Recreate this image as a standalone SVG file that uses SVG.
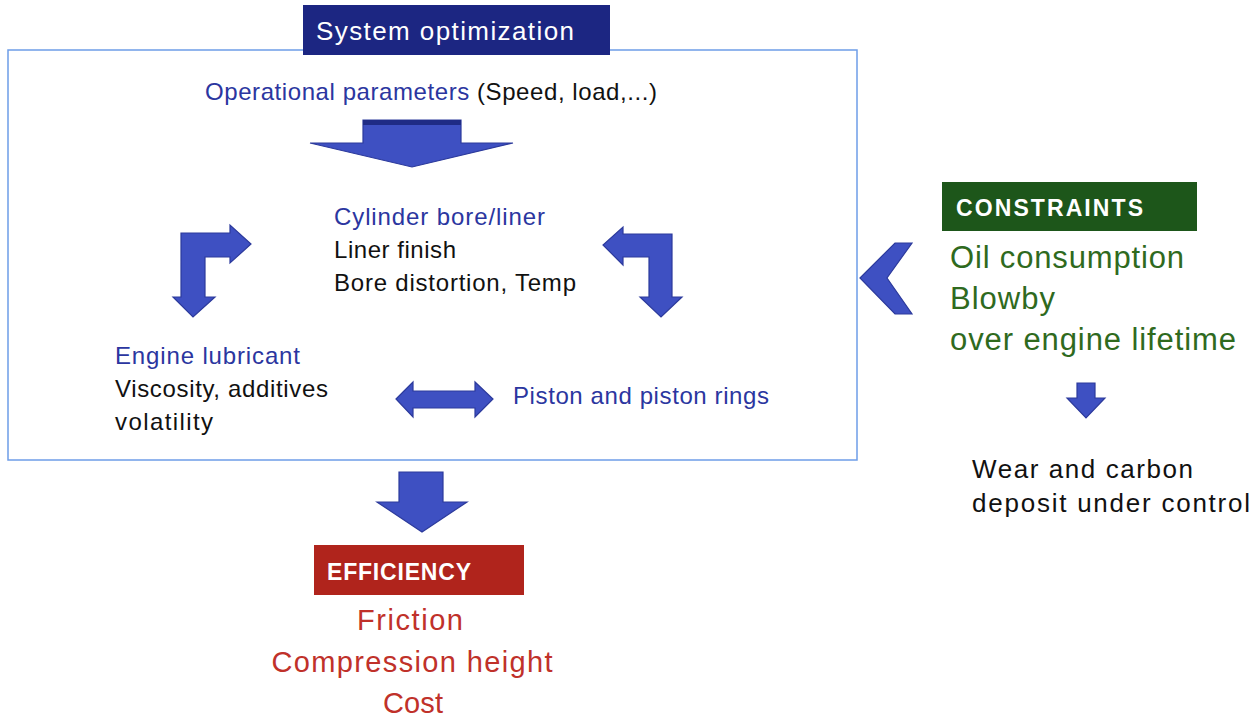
<svg xmlns="http://www.w3.org/2000/svg" width="1259" height="719" viewBox="0 0 1259 719">
<style>
text{font-family:"Liberation Sans",Arial,sans-serif}
.blue{fill:#2b36a0}
.blk{fill:#111}
.grn{fill:#2f6a1e}
.red{fill:#c0312a}
.wht{fill:#fff}
.arr{fill:#3e50c2;stroke:#2c3a9c;stroke-width:1.2;stroke-linejoin:miter}
</style>
<rect width="1259" height="719" fill="#fff"/>
<g id="system-box">
<rect x="8" y="50" width="849" height="410" fill="none" stroke="#6e9de8" stroke-width="1.5"/>
</g>
<g id="system-optimization">
<rect x="303" y="5" width="307" height="50" fill="#1c2682"/>
<text x="316" y="40" font-size="26" class="wht" textLength="258">System optimization</text>
</g>
<g id="operational">
<text x="205" y="100" font-size="24" textLength="452"><tspan class="blue">Operational parameters </tspan><tspan class="blk">(Speed, load,...)</tspan></text>
</g>
<g id="cylinder">
<text x="334" y="225" font-size="24" class="blue" textLength="211">Cylinder bore/liner</text>
<text x="334" y="258" font-size="24" class="blk" textLength="122">Liner finish</text>
<text x="334" y="291" font-size="24" class="blk" textLength="242">Bore distortion, Temp</text>
</g>
<g id="lubricant">
<text x="115" y="364" font-size="24" class="blue" textLength="185">Engine lubricant</text>
<text x="115" y="397" font-size="24" class="blk" textLength="213">Viscosity, additives</text>
<text x="115" y="430" font-size="24" class="blk" textLength="98">volatility</text>
</g>
<g id="piston">
<text x="513" y="404" font-size="24" class="blue" textLength="256">Piston and piston rings</text>
</g>
<g id="constraints">
<rect x="942" y="182" width="255" height="49" fill="#1d561a"/>
<text x="956" y="216" font-size="23" font-weight="bold" class="wht" textLength="187">CONSTRAINTS</text>
<text x="950" y="268" font-size="31" class="grn" textLength="234">Oil consumption</text>
<text x="950" y="309" font-size="31" class="grn" textLength="105">Blowby</text>
<text x="950" y="350" font-size="31" class="grn" textLength="286">over engine lifetime</text>
</g>
<g id="wear">
<text x="972" y="478" font-size="26" class="blk" textLength="221">Wear and carbon</text>
<text x="972" y="512" font-size="26" class="blk" textLength="278">deposit under control</text>
</g>
<g id="efficiency">
<rect x="314" y="545" width="210" height="50" fill="#b0241c"/>
<text x="327" y="580" font-size="23" font-weight="bold" class="wht" textLength="144">EFFICIENCY</text>
<text x="410" y="630" font-size="29" class="red" text-anchor="middle" textLength="106">Friction</text>
<text x="412" y="672" font-size="29" class="red" text-anchor="middle" textLength="281">Compression height</text>
<text x="413" y="713" font-size="29" class="red" text-anchor="middle" textLength="60">Cost</text>
</g>
<g id="connectors">
<path class="arr" d="M363,120 H461 V143 H513 L412,167 L310,143 H363 Z"/>
<rect x="363" y="120" width="98" height="5" fill="#1f2b85"/>
<path class="arr" d="M181,233 H230 V225 L251,244 L230,263 V257 H205 V297 H215 L193,317 L173,297 H181 Z"/>
<path class="arr" d="M672,234 V297 H682 L661,317 L640,297 H649 V257 H623 V265 L603,245 L623,227 V234 Z"/>
<path class="arr" d="M396,399 L413,382 V391 H475 V382 L493,399 L475,417 V408 H413 V417 Z"/>
<path class="arr" d="M399,472 H443 V502 H467 L422,532 L377,502 H399 Z"/>
<path class="arr" d="M860,278 L895,243 H912 L887,278 L912,314 H895 Z"/>
<path class="arr" d="M1077,383 H1095 V398 H1105 L1086,418 L1067,398 H1077 Z"/>
</g>
</svg>
